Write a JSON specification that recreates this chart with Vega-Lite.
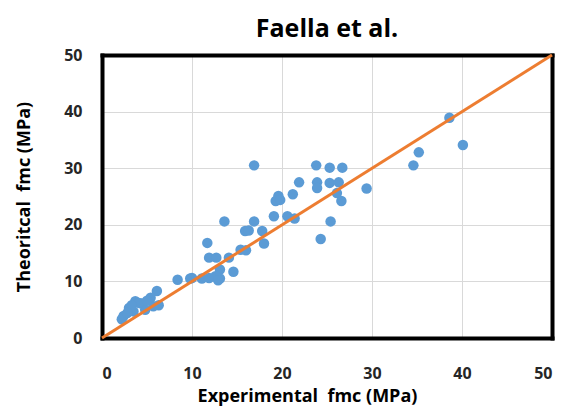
{
  "$schema": "https://vega.github.io/schema/vega-lite/v6.json",
  "autosize": "none",
  "width": 450,
  "height": 283,
  "padding": {"left": 102, "top": 55, "right": 13, "bottom": 77},
  "background": "white",
  "title": {"text": "Faella et al.", "font": "Open Sans", "fontSize": 25, "fontWeight": "bold", "color": "#000000", "anchor": "middle", "offset": 5},
  "config": {
    "view": {"stroke": null},
    "axis": {"labelFont": "Open Sans", "labelFontSize": 16, "labelFontWeight": "bold", "labelColor": "#262626", "titleFont": "Open Sans", "titleFontSize": 18, "titleFontWeight": "bold", "titleColor": "#000000", "gridColor": {"condition": {"test": "datum.value === 0 || datum.value === 50", "value": "transparent"}, "value": "#d9d9d9"}, "gridWidth": 1, "ticks": false}
  },
  "resolve": {"axis": {"x": "independent", "y": "independent"}},
  "datasets": {
    "pts": [
      {"exp": 38.6, "theo": 38.9}, {"exp": 40.1, "theo": 34.1}, {"exp": 35.2, "theo": 32.8}, {"exp": 34.6, "theo": 30.5},
      {"exp": 29.4, "theo": 26.4}, {"exp": 16.9, "theo": 30.5}, {"exp": 23.8, "theo": 30.5}, {"exp": 25.3, "theo": 30.1},
      {"exp": 26.7, "theo": 30.1}, {"exp": 21.9, "theo": 27.5}, {"exp": 23.9, "theo": 27.5}, {"exp": 23.9, "theo": 26.5},
      {"exp": 25.3, "theo": 27.4}, {"exp": 26.3, "theo": 27.5}, {"exp": 26.1, "theo": 25.6}, {"exp": 26.6, "theo": 24.2},
      {"exp": 21.2, "theo": 25.4}, {"exp": 19.6, "theo": 25.1}, {"exp": 19.3, "theo": 24.2}, {"exp": 19.8, "theo": 24.4},
      {"exp": 19.1, "theo": 21.5}, {"exp": 20.6, "theo": 21.5}, {"exp": 21.4, "theo": 21.1}, {"exp": 25.4, "theo": 20.6},
      {"exp": 24.3, "theo": 17.5}, {"exp": 13.6, "theo": 20.6}, {"exp": 16.9, "theo": 20.6}, {"exp": 15.9, "theo": 18.9},
      {"exp": 16.3, "theo": 19.0}, {"exp": 17.8, "theo": 18.9}, {"exp": 18.0, "theo": 16.7}, {"exp": 11.7, "theo": 16.8},
      {"exp": 15.4, "theo": 15.6}, {"exp": 16.0, "theo": 15.5}, {"exp": 11.9, "theo": 14.2}, {"exp": 12.7, "theo": 14.2},
      {"exp": 14.1, "theo": 14.2}, {"exp": 14.6, "theo": 11.7}, {"exp": 13.1, "theo": 12.1}, {"exp": 13.1, "theo": 10.5},
      {"exp": 12.6, "theo": 10.9}, {"exp": 8.4, "theo": 10.3}, {"exp": 9.8, "theo": 10.5}, {"exp": 11.1, "theo": 10.5},
      {"exp": 11.9, "theo": 10.6}, {"exp": 10.0, "theo": 10.6}, {"exp": 12.9, "theo": 10.2},
      {"exp": 6.1, "theo": 8.3}, {"exp": 5.4, "theo": 7.1}, {"exp": 3.7, "theo": 6.5}, {"exp": 4.4, "theo": 6.1},
      {"exp": 3.0, "theo": 5.3}, {"exp": 2.4, "theo": 3.9}, {"exp": 2.2, "theo": 3.3}, {"exp": 5.7, "theo": 5.6},
      {"exp": 4.8, "theo": 5.0}, {"exp": 3.5, "theo": 4.7}, {"exp": 6.3, "theo": 5.8}, {"exp": 4.1, "theo": 6.2},
      {"exp": 3.3, "theo": 5.8}, {"exp": 2.8, "theo": 4.4}, {"exp": 5.0, "theo": 6.6}
    ],
    "line": [{"exp": 0, "theo": 0}, {"exp": 50, "theo": 50}]
  },
  "layer": [
    {
      "data": {"name": "pts"},
      "mark": {"type": "circle", "size": 110, "color": "#5B9BD5", "opacity": 1},
      "encoding": {
        "x": {"field": "exp", "type": "quantitative", "scale": {"domain": [0, 50], "nice": false}, "axis": {"values": [0, 10, 20, 30, 40, 50], "title": "Experimental\u00a0 fmc (MPa)", "labelPadding": 27, "titlePadding": 6, "titleX": 205, "domain": true, "domainColor": "#000000", "domainWidth": 4, "domainCap": "square", "zindex": 0}},
        "y": {"field": "theo", "type": "quantitative", "scale": {"domain": [0, 50], "nice": false}, "axis": {"values": [0, 10, 20, 30, 40, 50], "title": "Theoritcal\u00a0 fmc (MPa)", "labelPadding": 20, "titlePadding": 30, "domain": true, "domainColor": "#000000", "domainWidth": 4, "domainCap": "square", "zindex": 0}}
      }
    },
    {
      "data": {"name": "line"},
      "mark": {"type": "line", "color": "#ED7D31", "strokeWidth": 3},
      "encoding": {
        "x": {"field": "exp", "type": "quantitative", "scale": {"domain": [0, 50], "nice": false}, "axis": {"orient": "top", "values": [0, 50], "labels": false, "grid": false, "title": null, "domain": true, "domainColor": "#000000", "domainWidth": 4, "domainCap": "square", "zindex": 0}},
        "y": {"field": "theo", "type": "quantitative", "scale": {"domain": [0, 50], "nice": false}, "axis": {"orient": "right", "values": [0, 50], "labels": false, "grid": false, "title": null, "domain": true, "domainColor": "#000000", "domainWidth": 4, "domainCap": "square", "zindex": 0}}
      }
    }
  ]
}
